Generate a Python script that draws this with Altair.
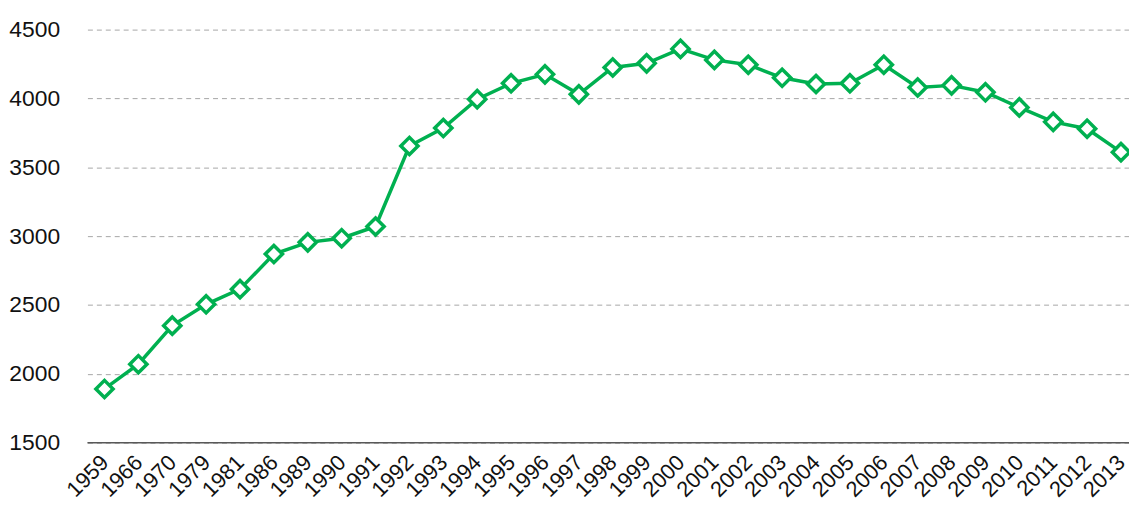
import altair as alt
import pandas as pd

years = ["1959", "1966", "1970", "1979", "1981", "1986", "1989", "1990", "1991",
         "1992", "1993", "1994", "1995", "1996", "1997", "1998", "1999", "2000",
         "2001", "2002", "2003", "2004", "2005", "2006", "2007", "2008", "2009",
         "2010", "2011", "2012", "2013"]
values = [1890, 2070, 2350, 2505, 2615, 2870, 2955, 2985, 3070,
          3655, 3785, 3995, 4110, 4175, 4030, 4225, 4255, 4360,
          4280, 4245, 4150, 4105, 4110, 4245, 4080, 4095, 4045,
          3935, 3830, 3780, 3610]
y_ticks = [1500, 2000, 2500, 3000, 3500, 4000, 4500]
baseline_value = [1500]

df = pd.DataFrame({"year": years, "value": values})

FONT = "Liberation Sans"
GREEN = "#00b050"

y_scale = alt.Scale(domain=[1500, 4500], nice=False, zero=False)
y_axis = alt.Axis(
    title=None, values=y_ticks, ticks=False, domain=False, format="d",
    grid=True, gridColor="#a6a6a6", gridDash=[5, 4], gridWidth=1,
    labelFont=FONT, labelFontSize=23, labelColor="#111111",
    labelPadding=28,
)

x_enc = alt.X(
    "year:O",
    sort=years,
    scale=alt.Scale(type="point", padding=0.37, align=0.68),
    axis=alt.Axis(
        title=None, ticks=False, grid=False, domain=False,
        labelAngle=-45, labelAlign="right", labelBaseline="middle",
        labelFont=FONT, labelFontSize=22, labelColor="#111111",
        labelPadding=16, labelOverlap=False,
    ),
)
y_enc = alt.Y("value:Q", scale=y_scale, axis=y_axis)

base = alt.Chart(df).encode(x=x_enc, y=y_enc)

line = base.mark_line(color=GREEN, strokeWidth=3.5)
points = base.mark_point(
    shape="diamond", size=300, filled=True, fill="white",
    stroke=GREEN, strokeWidth=3.5, opacity=1,
)

baseline = alt.Chart(pd.DataFrame({"value": baseline_value})).mark_rule(
    color="#595959", strokeWidth=1.5
).encode(y=alt.Y("value:Q", scale=y_scale, axis=y_axis))

chart = alt.layer(baseline, line, points).properties(
    width=1049, height=416,
    autosize=alt.AutoSizeParams(type="none"),
    padding={"left": 80, "top": 20, "right": 0, "bottom": 59},
).configure_view(stroke=None)

chart.save("out.html", embed_options={"renderer": "svg", "actions": False})
